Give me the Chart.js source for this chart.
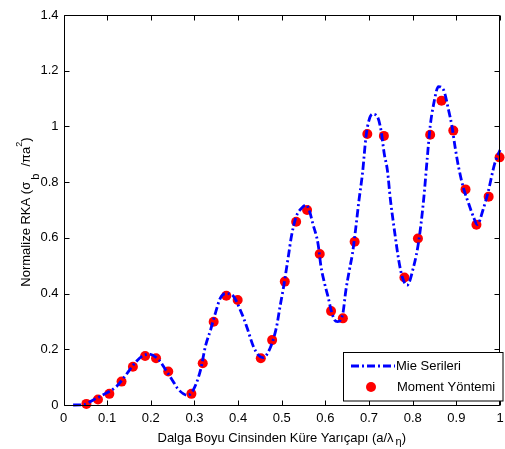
<!DOCTYPE html>
<html><head><meta charset="utf-8">
<script src="https://cdn.jsdelivr.net/npm/chart.js@4"></script>
<style>html,body{margin:0;padding:0;background:#fff;overflow:hidden}</style>
</head><body>
<canvas id="c" width="505" height="449"></canvas>
<script>
// ---- data ----
const mieX = [0.022,0.046,0.068,0.09,0.121,0.143,0.166,0.181,0.196,0.219,0.234,0.249,0.261,0.275,0.284,0.296,0.314,0.325,0.337,0.348,0.359,0.371,0.386,0.408,0.42,0.435,0.446,0.457,0.473,0.488,0.496,0.503,0.515,0.522,0.533,0.545,0.556,0.564,0.571,0.583,0.59,0.598,0.606,0.613,0.621,0.628,0.64,0.647,0.655,0.662,0.669,0.677,0.685,0.693,0.70,0.708,0.719,0.727,0.735,0.742,0.749,0.757,0.768,0.776,0.787,0.802,0.814,0.825,0.833,0.84,0.848,0.859,0.871,0.882,0.89,0.897,0.905,0.916,0.928,0.939,0.948,0.961,0.972,0.988,1.0];
const mieY = [0,0.001,0.018,0.036,0.066,0.108,0.155,0.176,0.183,0.161,0.126,0.09,0.06,0.04,0.035,0.05,0.126,0.21,0.27,0.33,0.383,0.40,0.395,0.33,0.28,0.21,0.18,0.17,0.203,0.28,0.353,0.413,0.532,0.604,0.676,0.706,0.718,0.694,0.652,0.58,0.496,0.437,0.389,0.341,0.305,0.299,0.329,0.413,0.485,0.544,0.628,0.736,0.832,0.963,1.023,1.044,1.035,0.99,0.9,0.843,0.736,0.64,0.52,0.46,0.43,0.496,0.59,0.736,0.88,1.0,1.08,1.143,1.13,1.06,1.0,0.927,0.855,0.78,0.724,0.676,0.648,0.70,0.76,0.867,0.915];
const momX = [0.0525,0.079,0.105,0.133,0.159,0.187,0.212,0.240,0.293,0.319,0.344,0.373,0.399,0.452,0.478,0.507,0.533,0.558,0.587,0.613,0.640,0.667,0.696,0.734,0.781,0.812,0.840,0.866,0.893,0.921,0.946,0.974,0.999];
const momY = [0.004,0.02,0.04,0.084,0.137,0.176,0.168,0.12,0.04,0.15,0.299,0.392,0.377,0.168,0.233,0.443,0.658,0.70,0.542,0.337,0.311,0.586,0.973,0.966,0.458,0.598,0.970,1.092,0.985,0.774,0.647,0.748,0.889];
const seriesNames = ['Mie Serileri','Moment Yöntemi'];
const xTickValues = [0,0.1,0.2,0.3,0.4,0.5,0.6,0.7,0.8,0.9,1];
const xTickLabels = ['0','0.1','0.2','0.3','0.4','0.5','0.6','0.7','0.8','0.9','1'];
const yTickValues = [0,0.2,0.4,0.6,0.8,1,1.2,1.4];
const yTickLabels = ['0','0.2','0.4','0.6','0.8','1','1.2','1.4'];
// [text, kind]  kind: n = normal, sub = subscript, sup = superscript
const xTitleParts = [['Dalga Boyu Cinsinden Küre Yarıçapı (a/λ','n'],['η','sub'],[')','n']];
const yTitleParts = [['Normalize RKA (σ','n'],['b','sub'],['  /πa','n'],['2','sup'],[')','n']];

const FONT = 'Liberation Sans, Arial, sans-serif';
const FS = 13;

function partFont(kind) {
  if (kind === 'n') return FS + 'px ' + FONT;
  if (kind === 'sub') return '11px ' + FONT;
  return '9px ' + FONT;
}
function drawParts(ctx, parts, x, y, subDrop, supRise) {
  let total = 0;
  parts.forEach(p => { ctx.font = partFont(p[1]); total += ctx.measureText(p[0]).width + (p[1] === 'sub' ? 2 : 0); });
  let cx = x - total / 2;
  parts.forEach(p => {
    ctx.font = partFont(p[1]);
    let dy = 0;
    if (p[1] === 'sub') { dy = subDrop; cx += 2; }
    if (p[1] === 'sup') dy = -supRise;
    ctx.fillText(p[0], cx, y + dy);
    cx += ctx.measureText(p[0]).width;
  });
}

const decor = {
  id: 'decor',
  afterDatasetsDraw(chart) {
    const ctx = chart.ctx, a = chart.chartArea;
    const xs = chart.scales.x, ys = chart.scales.y;
    ctx.save();
    ctx.strokeStyle = '#000'; ctx.lineWidth = 1;
    ctx.beginPath();
    const L = Math.round(a.left) + 0.5, R = Math.round(a.right) - 0.5, T = Math.round(a.top) + 0.5, B = Math.round(a.bottom) + 0.5;
    ctx.rect(L, T, R - L, B - T);
    const tl = 5;
    xTickValues.forEach(v => {
      const px = Math.round(xs.getPixelForValue(v)) + 0.5;
      ctx.moveTo(px, B); ctx.lineTo(px, B - tl);
      ctx.moveTo(px, T); ctx.lineTo(px, T + tl);
    });
    yTickValues.forEach(v => {
      const py = Math.round(ys.getPixelForValue(v)) + 0.5;
      ctx.moveTo(L, py); ctx.lineTo(L + tl, py);
      ctx.moveTo(R, py); ctx.lineTo(R - tl, py);
    });
    ctx.stroke();

    // axis titles
    ctx.fillStyle = '#000';
    ctx.textBaseline = 'alphabetic';
    ctx.textAlign = 'left';
    drawParts(ctx, xTitleParts, (a.left + a.right) / 2, 442, 3, 6);
    ctx.save();
    ctx.translate(30, 212);
    ctx.rotate(-Math.PI / 2);
    drawParts(ctx, yTitleParts, 0, 0, 9, 8);
    ctx.restore();

    // legend
    const lx = 343.5, ly = 352.5, lw = 159.5, lh = 48.5;
    ctx.fillStyle = '#fff';
    ctx.fillRect(lx, ly, lw, lh);
    ctx.strokeStyle = '#000'; ctx.lineWidth = 1;
    ctx.strokeRect(lx, ly, lw, lh);
    const d0 = chart.data.datasets[0], d1 = chart.data.datasets[1];
    ctx.strokeStyle = d0.borderColor; ctx.lineWidth = d0.borderWidth;
    ctx.setLineDash(d0.borderDash);
    ctx.beginPath(); ctx.moveTo(351, 366); ctx.lineTo(395, 366); ctx.stroke();
    ctx.setLineDash([]);
    ctx.fillStyle = d1.backgroundColor;
    ctx.beginPath(); ctx.arc(371, 387, d1.pointRadius, 0, Math.PI * 2); ctx.fill();
    ctx.fillStyle = '#000';
    ctx.font = FS + 'px ' + FONT;
    ctx.textBaseline = 'middle';
    ctx.fillText(d0.label, 396, 366);
    ctx.fillText(d1.label, 397, 387);
    ctx.restore();
  }
};

new Chart(document.getElementById('c'), {
  type: 'line',
  data: {
    datasets: [
      {
        label: seriesNames[0],
        data: mieX.map((x, i) => ({x, y: mieY[i]})),
        borderColor: '#0000ff', backgroundColor: '#0000ff',
        borderWidth: 2.8, borderDash: [8, 3, 2, 3],
        pointRadius: 0, cubicInterpolationMode: 'monotone', fill: false, clip: false
      },
      {
        label: seriesNames[1],
        data: momX.map((x, i) => ({x, y: momY[i]})),
        showLine: false,
        borderColor: '#ff0000', backgroundColor: '#ff0000',
        pointRadius: 5, pointBorderWidth: 0, clip: false
      }
    ]
  },
  options: {
    responsive: false, animation: false, devicePixelRatio: 1,
    layout: { padding: { top: 15, right: 1.5, bottom: 0, left: 0 } },
    plugins: { legend: { display: false }, tooltip: { enabled: false }, title: { display: false } },
    scales: {
      x: {
        type: 'linear', min: 0, max: 1,
        grid: { display: false, drawTicks: false }, border: { display: false },
        afterBuildTicks: s => { s.ticks = xTickValues.map(v => ({value: v})); },
        afterFit: s => { s.height = 44; s.paddingRight = 0; s.paddingLeft = 0; },
        ticks: { color: '#000', padding: 6, maxRotation: 0, autoSkip: false,
          font: { family: FONT, size: FS },
          callback: (v, i) => xTickLabels[i] }
      },
      y: {
        type: 'linear', min: 0, max: 1.4,
        grid: { display: false, drawTicks: false }, border: { display: false },
        afterBuildTicks: s => { s.ticks = yTickValues.map(v => ({value: v})); },
        afterFit: s => { s.width = 63.5; },
        ticks: { color: '#000', padding: 5, autoSkip: false,
          font: { family: FONT, size: FS },
          callback: (v, i) => yTickLabels[i] }
      }
    }
  },
  plugins: [decor]
});
</script>
</body></html>
